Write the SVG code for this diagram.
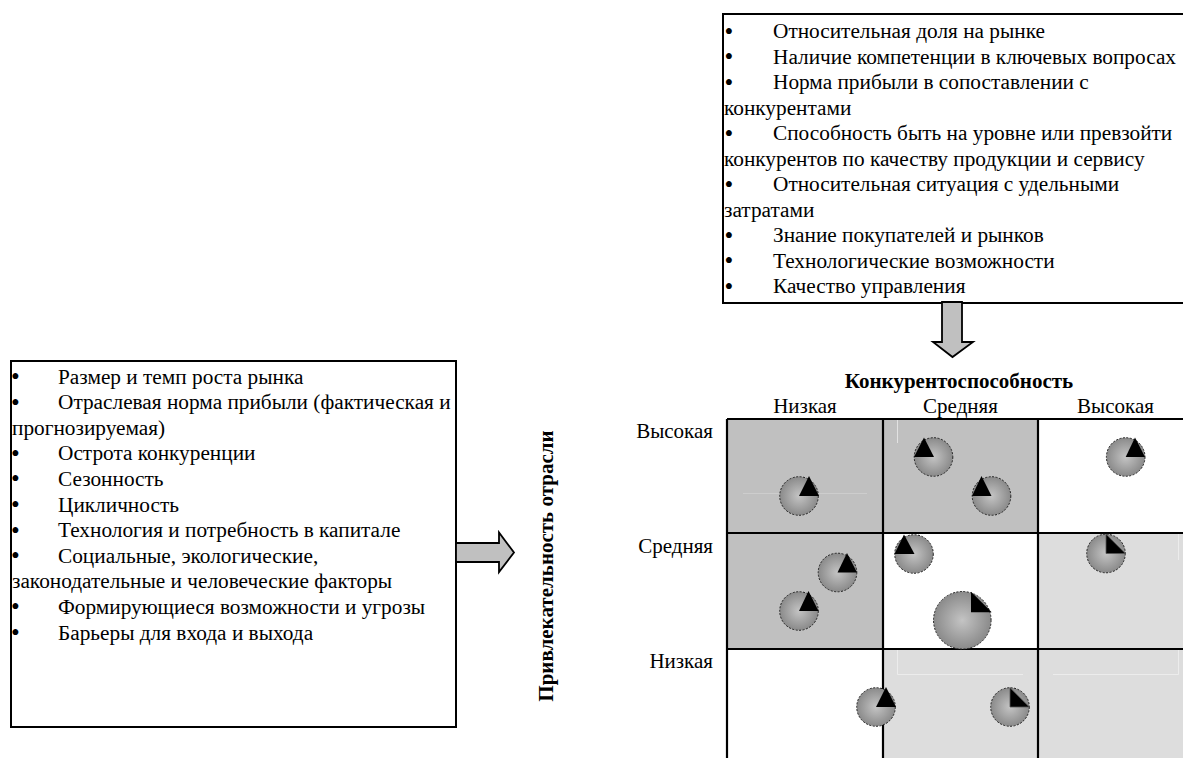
<svg xmlns="http://www.w3.org/2000/svg" width="1183" height="758" viewBox="0 0 1183 758">
<defs>
<style>
.t{font-family:"Liberation Serif","Times New Roman",serif;font-size:21.3px;fill:#000}
.t .bl{font-size:25px}
.b{font-family:"Liberation Serif","Times New Roman",serif;font-size:21px;font-weight:bold;fill:#000}
.h{font-family:"Liberation Serif","Times New Roman",serif;font-size:21px;fill:#000}
.box{fill:#fff;stroke:#000;stroke-width:2}
.grid{stroke:#000;stroke-width:2.2;fill:none}
.arrow{fill:#c0c0c0;stroke:#000;stroke-width:1.8;stroke-linejoin:miter}
.dot{fill:url(#rg);stroke:#222;stroke-width:1;stroke-dasharray:2 1.5}
.pie{fill:#000}
.faint{stroke-width:1;fill:none}
</style>
<radialGradient id="rg" cx="50%" cy="50%" r="50%">
<stop offset="0" stop-color="#c4c4c4"/>
<stop offset="1" stop-color="#8a8a8a"/>
</radialGradient>
</defs>
<rect width="1183" height="758" fill="#fff"/>

<g id="competitiveness-factors">
<rect class="box" x="723" y="14" width="480" height="289"/>
<g class="t">
<text class="bl" x="724.5" y="39.5">•</text><text x="773" y="38">Относительная доля на рынке</text>
<text class="bl" x="724.5" y="65">•</text><text x="773" y="63.5">Наличие компетенции в ключевых вопросах</text>
<text class="bl" x="724.5" y="90.5">•</text><text x="773" y="89">Норма прибыли в сопоставлении с</text>
<text x="724" y="114.5">конкурентами</text>
<text class="bl" x="724.5" y="141.5">•</text><text x="773" y="140">Способность быть на уровне или превзойти</text>
<text x="724" y="165.5">конкурентов по качеству продукции и сервису</text>
<text class="bl" x="724.5" y="192.5">•</text><text x="773" y="191">Относительная ситуация с удельными</text>
<text x="724" y="216.5">затратами</text>
<text class="bl" x="724.5" y="243.5">•</text><text x="773" y="242">Знание покупателей и рынков</text>
<text class="bl" x="724.5" y="269">•</text><text x="773" y="267.5">Технологические возможности</text>
<text class="bl" x="724.5" y="294.5">•</text><text x="773" y="293">Качество управления</text>
</g>
</g>

<g id="attractiveness-factors">
<rect class="box" x="11" y="361" width="445" height="366"/>
<g class="t">
<text class="bl" x="11" y="385">•</text><text x="58" y="383.5">Размер и темп роста рынка</text>
<text class="bl" x="11" y="410.6">•</text><text x="58" y="409.1">Отраслевая норма прибыли (фактическая и</text>
<text x="12" y="434.7">прогнозируемая)</text>
<text class="bl" x="11" y="461.8">•</text><text x="58" y="460.3">Острота конкуренции</text>
<text class="bl" x="11" y="487.4">•</text><text x="58" y="485.9">Сезонность</text>
<text class="bl" x="11" y="513">•</text><text x="58" y="511.5">Цикличность</text>
<text class="bl" x="11" y="538.6">•</text><text x="58" y="537.1">Технология и потребность в капитале</text>
<text class="bl" x="11" y="564.2">•</text><text x="58" y="562.7">Социальные, экологические,</text>
<text x="12" y="588.3">законодательные и человеческие факторы</text>
<text class="bl" x="11" y="615.4">•</text><text x="58" y="613.9">Формирующиеся возможности и угрозы</text>
<text class="bl" x="11" y="641">•</text><text x="58" y="639.5">Барьеры для входа и выхода</text>
</g>
</g>

<g id="axis-attractiveness">
<text class="b" transform="translate(553,566) rotate(-90)" text-anchor="middle">Привлекательность отрасли</text>
</g>

<g id="matrix">
<rect x="727" y="419" width="156" height="114" fill="#c0c0c0"/>
<rect x="883" y="419" width="155" height="114" fill="#c0c0c0"/>
<rect x="1038" y="419" width="160" height="114" fill="#fff"/>
<rect x="727" y="533" width="156" height="116" fill="#c0c0c0"/>
<rect x="883" y="533" width="155" height="116" fill="#fff"/>
<rect x="1038" y="533" width="160" height="116" fill="#dddddd"/>
<rect x="727" y="649" width="156" height="115" fill="#fff"/>
<rect x="883" y="649" width="155" height="115" fill="#dddddd"/>
<rect x="1038" y="649" width="160" height="115" fill="#dddddd"/>
<path class="faint" stroke="#cdcdcd" d="M743 493.5H867"/>
<path class="faint" stroke="#e2e2e2" d="M897.5 420V443"/>
<path class="faint" stroke="#ececec" d="M897.5 650V674.5H1023M1053 674.5H1178.5V650M1178.5 534V560"/>
<path class="grid" d="M727 419V764M883 419V764M1038 419V764M727 419H1190M727 533H1190M727 649H1190"/>
</g>

<g id="matrix-labels">
<text class="b" x="959" y="388" text-anchor="middle">Конкурентоспособность</text>
<text class="h" x="805" y="412.5" text-anchor="middle">Низкая</text>
<text class="h" x="960.5" y="412.5" text-anchor="middle">Средняя</text>
<text class="h" x="1115.5" y="412.5" text-anchor="middle">Высокая</text>
<text class="h" x="713" y="438" text-anchor="end">Высокая</text>
<text class="h" x="713" y="553" text-anchor="end">Средняя</text>
<text class="h" x="713" y="668" text-anchor="end">Низкая</text>
</g>

<g id="business-units">
<g id="bu1"><circle class="dot" cx="799" cy="496" r="19.3"/><polygon class="pie" points="799,496 809,476 819,496"/></g>
<g id="bu2"><circle class="dot" cx="933.5" cy="457" r="19.3"/><polygon class="pie" points="914,457 924,437.5 934,457"/></g>
<g id="bu3"><circle class="dot" cx="991.5" cy="496" r="19.3"/><polygon class="pie" points="972,496 981.5,476 991.5,496"/></g>
<g id="bu4"><circle class="dot" cx="837.5" cy="572.5" r="19.3"/><polygon class="pie" points="837.5,572.5 847,553 857,572.5"/></g>
<g id="bu5"><circle class="dot" cx="799" cy="611" r="19.3"/><polygon class="pie" points="799,611 808.5,591 818.5,611"/></g>
<g id="bu6"><circle class="dot" cx="914" cy="554" r="19.3"/><polygon class="pie" points="894.5,554 904,534.5 914.5,554"/></g>
<g id="bu7"><circle class="dot" cx="962.3" cy="620.3" r="28.8"/><polygon class="pie" points="971,591.7 971,612.3 991.7,612.3"/></g>
<g id="bu8"><circle class="dot" cx="876" cy="707" r="19.3"/><polygon class="pie" points="876,707 886,687 896,707"/></g>
<g id="bu9"><circle class="dot" cx="1010" cy="707" r="19.3"/><polygon class="pie" points="1010,687.7 1010,707 1029.3,707" stroke="#555" stroke-width="0.8"/></g>
<g id="bu10"><circle class="dot" cx="1125.7" cy="457" r="19.3"/><polygon class="pie" points="1125.7,457 1135,437.5 1145,457"/></g>
<g id="bu11"><circle class="dot" cx="1106" cy="553.5" r="19.3"/><polygon class="pie" points="1106,534.2 1106,553.5 1125.3,553.5" stroke="#555" stroke-width="0.8"/></g>
</g>

<g id="connectors">
<polygon class="arrow" points="942,302 962,302 962,342 973,342 952.5,357 933,342 942,342"/>
<polygon class="arrow" points="456,543 499,543 499,532.5 514,552.5 499,572 499,562 456,562"/>
</g>
</svg>
